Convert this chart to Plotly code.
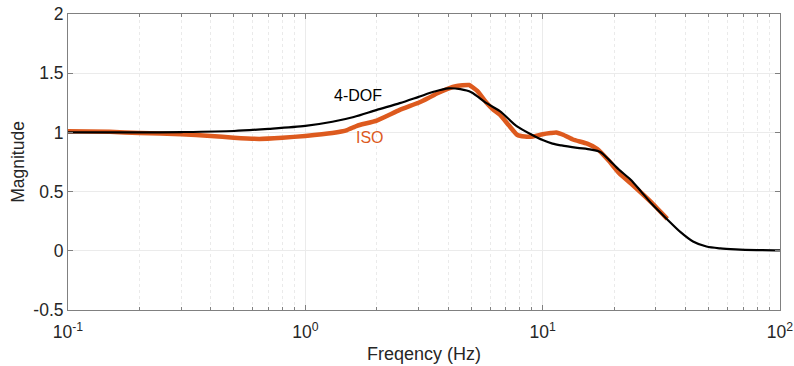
import plotly.graph_objects as go
import numpy as np

# 4-DOF model response
dof_freq = [0.1, 0.2, 0.3, 0.5, 0.7, 1.0, 1.3, 1.6, 2.0, 2.5, 3.0, 3.5, 4.0, 4.5, 5.0,
            5.8, 6.6, 7.8, 9.0, 10, 11, 12, 14, 16, 17.5, 19, 21, 23.5, 26, 29, 33.5,
            38, 43, 49, 56, 65, 80, 100]
dof_mag = [1.0, 1.0, 1.003, 1.012, 1.03, 1.055, 1.09, 1.13, 1.19, 1.247, 1.30, 1.345,
           1.372, 1.365, 1.34, 1.247, 1.18, 1.05, 0.98, 0.935, 0.905, 0.89, 0.87, 0.855,
           0.835, 0.77, 0.684, 0.60, 0.50, 0.39, 0.265, 0.16, 0.079, 0.036, 0.02, 0.012,
           0.006, 0.003]

# ISO reference response
iso_freq = [0.1, 0.15, 0.2, 0.3, 0.4, 0.5, 0.64, 0.8, 1.0, 1.3, 1.5, 1.65, 2.0, 2.5,
            3.0, 3.3, 3.6, 4.0, 4.3, 4.9, 5.3, 5.8, 6.2, 6.6, 7.2, 7.8, 8.4, 9.1, 10,
            10.8, 11.4, 12.2, 13.4, 15.4, 17, 19, 21, 23.5, 26, 29, 31, 33.5]
iso_mag = [1.01, 1.005, 0.995, 0.985, 0.97, 0.955, 0.945, 0.955, 0.97, 0.995, 1.02,
           1.056, 1.10, 1.19, 1.25, 1.29, 1.33, 1.37, 1.39, 1.40, 1.35, 1.25, 1.19,
           1.15, 1.06, 0.98, 0.965, 0.965, 0.985, 0.995, 1.0, 0.98, 0.94, 0.905, 0.86,
           0.76, 0.656, 0.57, 0.49, 0.40, 0.34, 0.27]

x_tickvals = [0.1, 1, 10, 100]
x_ticktext = ["10<sup>-1</sup>", "10<sup>0</sup>", "10<sup>1</sup>", "10<sup>2</sup>"]
y_tickvals = [-0.5, 0, 0.5, 1, 1.5, 2]
y_ticktext = ["-0.5", "0", "0.5", "1", "1.5", "2"]

minor_vals = [m * 10.0 ** e for e in (-1, 0, 1) for m in range(2, 10)]

ORANGE = "#DD5A1E"
FONT = "Liberation Sans, Arial, sans-serif"

fig = go.Figure()
fig.add_trace(go.Scatter(x=iso_freq, y=iso_mag, mode="lines",
                         line=dict(color=ORANGE, width=4.5, shape="spline", smoothing=0.4),
                         name="ISO"))
fig.add_trace(go.Scatter(x=dof_freq, y=dof_mag, mode="lines",
                         line=dict(color="#000000", width=2.2, shape="spline", smoothing=0.8),
                         name="4-DOF"))

fig.add_annotation(x=np.log10(1.67), y=1.31, text="4-DOF", showarrow=False,
                   font=dict(family=FONT, size=16, color="#000000"))
fig.add_annotation(x=np.log10(1.87), y=0.955, text="ISO", showarrow=False,
                   font=dict(family=FONT, size=16, color=ORANGE))

axis_common = dict(
    showline=True, linecolor="#808080", linewidth=1, mirror="ticks",
    ticks="inside", ticklen=5, tickcolor="#808080",
    tickfont=dict(family=FONT, size=17.5, color="#262626"),
    zeroline=False, automargin=False,
)

fig.update_xaxes(type="log", range=[-1, 2], tickmode="array",
                 tickvals=x_tickvals, ticktext=x_ticktext, ticklabelstandoff=6,
                 showgrid=True, gridcolor="#EBEBEB", gridwidth=1,
                 minor=dict(tickmode="array", tickvals=minor_vals, ticks="inside",
                            ticklen=3, tickcolor="#808080", showgrid=True,
                            gridcolor="#EAEAEA", griddash="dot", gridwidth=1),
                 title=dict(text="Freqency (Hz)", font=dict(family=FONT, size=18, color="#262626"),
                            standoff=6),
                 **axis_common)
fig.update_yaxes(range=[-0.5, 2], tickmode="array", tickvals=y_tickvals,
                 ticktext=y_ticktext, showgrid=True, gridcolor="#EBEBEB", gridwidth=1,
                 title=dict(text="Magnitude", font=dict(family=FONT, size=17.5, color="#262626"),
                            standoff=4),
                 **axis_common)

fig.update_layout(width=794, height=366, margin=dict(l=68, r=14, t=14, b=56),
                  plot_bgcolor="white", paper_bgcolor="white", showlegend=False)

fig.write_html("out.html")
